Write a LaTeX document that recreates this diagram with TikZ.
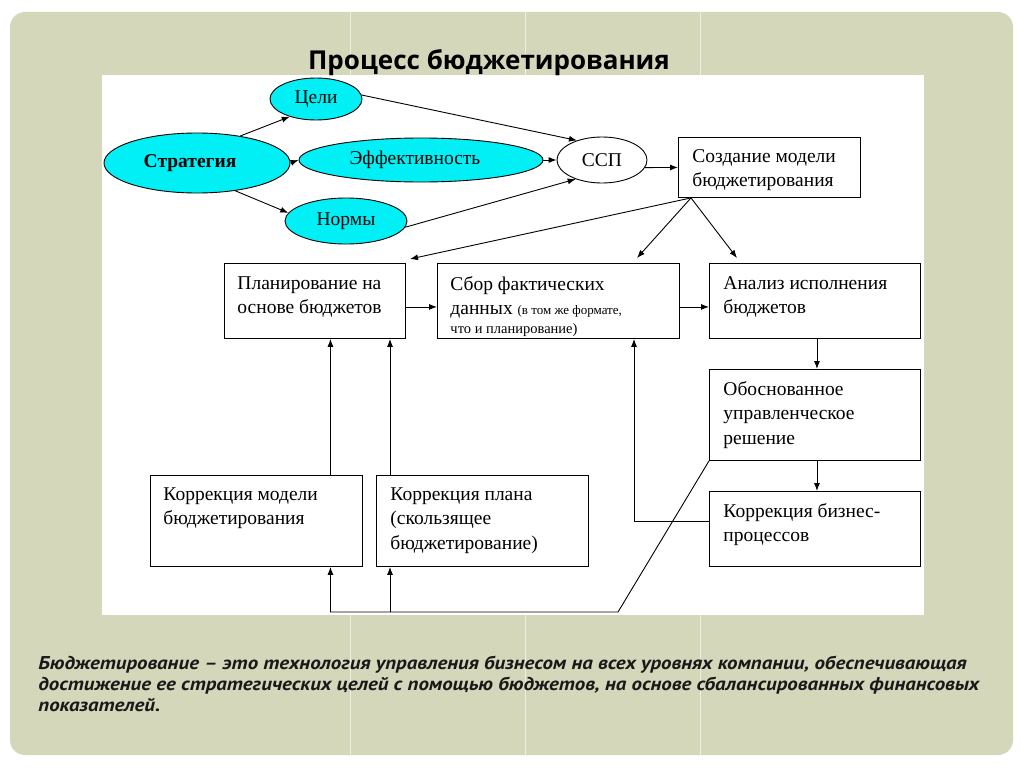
\documentclass[tikz,border=0pt]{standalone}
\usepackage{fontspec}
\setmainfont{Liberation Serif}
\newfontfamily\headfont{Open Sans}
\newfontfamily\notefont[FakeStretch=1.13]{PT Sans}
\usetikzlibrary{shapes.geometric,arrows.meta,positioning}
\definecolor{slide}{RGB}{213,215,187}
\definecolor{cyanfill}{RGB}{0,240,245}

\begin{document}
\begin{tikzpicture}[x=1pt,y=-1pt,line width=0.9pt,
    >={Latex[length=8pt,width=6pt]},
    font=\fontsize{19.5}{24.5}\selectfont,
    oval/.style={ellipse, draw, fill=cyanfill, inner sep=0pt},
    blk/.style={rectangle, draw, fill=white, anchor=north west, inner sep=0pt},
    txt/.style={anchor=north west, align=left, inner sep=0pt}]
    \useasboundingbox (0,0) rectangle (1024,768);
    \fill[white] (0,0) rectangle (1024,768);
    \fill[slide, rounded corners=15pt] (10,12) rectangle (1013,755);
    \foreach \x in {350,525,700}
        \draw[white, opacity=0.6, line width=1pt] (\x,12) -- (\x,755);
    \fill[white] (102,75) rectangle (924,615);

    \node[font=\headfont\bfseries\fontsize{26}{30}\selectfont] (title) at (489,63) {Процесс бюджетирования};

    \node[oval, minimum width=186pt, minimum height=60pt, font=\fontsize{19.5}{24.5}\selectfont\bfseries] (strat) at (197,163) {\hspace*{-14pt}Стратегия};
    \node[oval, minimum width=92pt, minimum height=42pt] (celi) at (316,99) {Цели};
    \node[oval, minimum width=244pt, minimum height=44pt] (effect) at (421,160) {\hspace*{-12pt}Эффективность};
    \node[oval, minimum width=122pt, minimum height=46pt] (normy) at (346,221) {Нормы};
    \node[oval, fill=white, minimum width=90pt, minimum height=46pt] (ssp) at (602,160) {ССП};

    \node[blk, minimum width=182pt, minimum height=60pt] (model) at (678,137) {};
    \node[blk, minimum width=181pt, minimum height=75pt] (plan) at (224,263) {};
    \node[blk, minimum width=242pt, minimum height=75pt] (sbor) at (437,263) {};
    \node[blk, minimum width=211pt, minimum height=75pt] (analiz) at (709,263) {};
    \node[blk, minimum width=211pt, minimum height=91pt] (obosn) at (709,369) {};
    \node[blk, minimum width=211pt, minimum height=75pt] (biz) at (709,491) {};
    \node[blk, minimum width=212pt, minimum height=91pt] (korrm) at (150,475) {};
    \node[blk, minimum width=212pt, minimum height=91pt] (korrp) at (376,475) {};

    \node[txt] (model-t) at ([shift={(14,12)}]model.north west) {Создание модели\\бюджетирования};
    \node[txt] (plan-t) at ([shift={(13,13)}]plan.north west) {Планирование на\\основе бюджетов};
    \node[txt] (sbor-t) at ([shift={(13,13)}]sbor.north west) {Сбор фактических\\данных {\fontsize{13}{14}\selectfont(в том же формате,}\\[-6pt]{\fontsize{14.5}{15}\selectfont что и планирование)}};
    \node[txt] (analiz-t) at ([shift={(14,13)}]analiz.north west) {Анализ исполнения\\бюджетов};
    \node[txt] (obosn-t) at ([shift={(14,12)}]obosn.north west) {Обоснованное\\управленческое\\решение};
    \node[txt] (biz-t) at ([shift={(14,12)}]biz.north west) {Коррекция бизнес-\\процессов};
    \node[txt] (korrm-t) at ([shift={(13,12)}]korrm.north west) {Коррекция модели\\бюджетирования};
    \node[txt] (korrp-t) at ([shift={(14,12)}]korrp.north west) {Коррекция плана\\(скользящее\\бюджетирование)};

    \draw[->] (strat.32) -- (celi.214);
    \draw[->] (strat.east) -- (effect.west);
    \draw[->] (strat.-36) -- (normy.172);
    \draw[->] (celi.5) -- (ssp.142);
    \draw[->] (effect.east) -- (ssp.west);
    \draw[->] (normy.-6) -- (ssp.216);
    \draw[->] (ssp.-10) -- (model.west);

    \coordinate (fork) at ([xshift=13pt]model.south west);
    \coordinate (t1) at (410,259);
    \coordinate (t2) at (637,258);
    \coordinate (t3) at (737,258);
    \draw[->] (fork) -- (t1);
    \draw[->] (fork) -- (t2);
    \draw[->] (fork) -- (t3);

    \draw[->] ([yshift=-6pt]plan.east) -- ([yshift=-6pt]sbor.west);
    \draw[->] ([yshift=-6pt]sbor.east) -- ([yshift=-6pt]analiz.west);
    \draw[->] ([xshift=2pt]analiz.south) -- ([xshift=2pt]obosn.north);
    \draw[->] ([xshift=2pt]obosn.south) -- ([xshift=2pt]biz.north);
    \draw[->] ([yshift=8pt]biz.west) -| ([xshift=197pt]sbor.south west);
    \draw[->] ([xshift=74pt]korrm.north) -- ([xshift=74pt]korrm.north |- plan.south);
    \draw[->] ([xshift=14pt]korrp.north west) -- ([xshift=14pt]korrp.north west |- plan.south);

    \coordinate (low) at (618,612);
    \draw[->] (obosn.south west) -- (low) -| ([xshift=74pt]korrm.south);
    \draw[->] ([xshift=14pt]korrp.south west |- low) -- ([xshift=14pt]korrp.south west);

    \node[txt, text=black!90, font=\notefont\bfseries\itshape\fontsize{18.5}{21}\selectfont] (note) at (38,656)
        {Бюджетирование – это технология управления бизнесом на всех уровнях компании, обеспечивающая\\
         достижение ее стратегических целей с помощью бюджетов, на основе сбалансированных финансовых\\
         показателей.};
\end{tikzpicture}
\end{document}
